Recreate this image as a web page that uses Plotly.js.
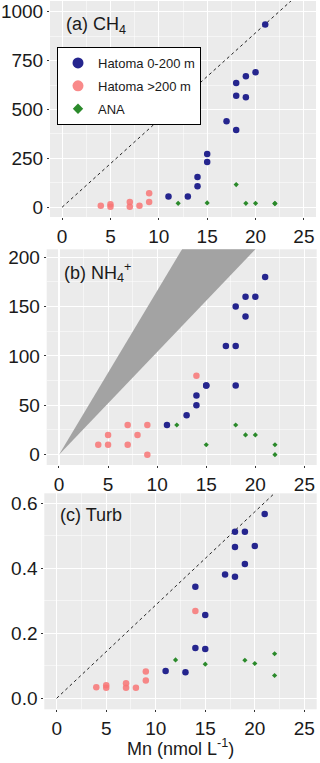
<!DOCTYPE html>
<html>
<head>
<meta charset="utf-8">
<script src="https://cdn.plot.ly/plotly-3.0.1.min.js"></script>
<style>
  html, body { margin: 0; padding: 0; background: #fff; }
  #grafico { width: 320px; height: 763px; }
</style>
</head>
<body>
<div id="grafico"></div>
<script>
// Mn (nmol/L) per group
var mnShallow = [11, 13, 14, 14, 15, 15, 17, 18, 18, 18, 19, 19, 20, 21];
var mnDeep = [4, 5, 5, 7, 7, 8, 9, 9, 14];
var mnAna = [12, 15, 18, 19, 20, 22, 22];

// (a) CH4
var ch4Shallow = [55, 55, 107, 155, 232, 272, 440, 395, 570, 635, 562, 670, 690, 935];
var ch4Deep = [7, 15, 2, 3, 27, 8, 27, 72, 467];
var ch4Ana = [20, 22, 116, 20, 20, 20, 18];

// (b) NH4+
var nh4Shallow = [30, 40, 50, 60, 70, 70, 110, 70, 110, 150, 140, 160, 160, 180];
var nh4Deep = [10, 10, 20, 10, 30, 20, 0, 30, 80];
var nh4Ana = [30, 10, 30, 20, 20, 10, 0];

// (c) Turb
var turbShallow = [0.084, 0.080, 0.155, 0.343, 0.152, 0.256, 0.381, 0.374, 0.466, 0.513, 0.413, 0.513, 0.469, 0.567];
var turbDeep = [0.034, 0.040, 0.032, 0.032, 0.046, 0.032, 0.055, 0.082, 0.269];
var mnAnaTurb = [12, 15, 19, 20, 22, 22];
var turbAna = [0.118, 0.105, 0.117, 0.107, 0.137, 0.070];

// reference lines (slopes) and the NH4 wedge
var ch4Slope = 44.6;
var turbSlope = 0.0287;
var nh4Upper = 16.6;
var nh4Lower = 10.4;
var lineX = [0, 25];

var azul = '#25258e';
var rosa = 'rgba(248, 118, 118, 0.85)';
var verde = '#2b8a2b';
var fuente = 'Liberation Sans, Arial, sans-serif';

function puntos(x, y, color, size, symbol, xa, ya) {
  return {
    x: x, y: y, xaxis: xa, yaxis: ya,
    type: 'scatter', mode: 'markers',
    marker: {color: color, size: size, symbol: symbol, line: {width: 0}},
    showlegend: false, hoverinfo: 'skip'
  };
}

function recta(slope, xa, ya) {
  return {
    x: lineX, y: lineX.map(function (v) { return v * slope; }),
    xaxis: xa, yaxis: ya, type: 'scatter', mode: 'lines',
    line: {color: '#222', width: 1, dash: 'dot'},
    showlegend: false, hoverinfo: 'skip'
  };
}

var cuna = {
  x: [0, 25, 25, 0],
  y: [0, 25 * nh4Upper, 25 * nh4Lower, 0],
  xaxis: 'x2', yaxis: 'y2', type: 'scatter', mode: 'lines',
  fill: 'toself', fillcolor: '#a3a3a3', line: {width: 0},
  showlegend: false, hoverinfo: 'skip'
};

// legend-only entries (bigger keys, like the original)
function leyenda(name, color, size, symbol) {
  return {
    x: [null], y: [null], xaxis: 'x', yaxis: 'y', type: 'scatter', mode: 'markers',
    name: name, legendgroup: name, marker: {color: color, size: size, symbol: symbol},
    showlegend: true, hoverinfo: 'skip'
  };
}

var data = [
  recta(ch4Slope, 'x', 'y'),
  puntos(mnDeep, ch4Deep, rosa, 6.5, 'circle', 'x', 'y'),
  puntos(mnShallow, ch4Shallow, azul, 6.5, 'circle', 'x', 'y'),
  puntos(mnAna, ch4Ana, verde, 4, 'diamond', 'x', 'y'),

  cuna,
  puntos(mnDeep, nh4Deep, rosa, 6.5, 'circle', 'x2', 'y2'),
  puntos(mnShallow, nh4Shallow, azul, 6.5, 'circle', 'x2', 'y2'),
  puntos(mnAna, nh4Ana, verde, 4, 'diamond', 'x2', 'y2'),

  recta(turbSlope, 'x3', 'y3'),
  puntos(mnDeep, turbDeep, rosa, 6.5, 'circle', 'x3', 'y3'),
  puntos(mnShallow, turbShallow, azul, 6.5, 'circle', 'x3', 'y3'),
  puntos(mnAnaTurb, turbAna, verde, 4, 'diamond', 'x3', 'y3'),

  leyenda('Hatoma 0-200 m', azul, 11, 'circle'),
  leyenda('Hatoma >200 m', rosa, 11, 'circle'),
  leyenda('ANA', verde, 8, 'diamond')
];

function ejeX(domain, anchor) {
  return {
    domain: domain, anchor: anchor, range: [-1.25, 26.25],
    tickvals: [0, 5, 10, 15, 20, 25], ticks: 'outside', ticklen: 2,
    tickcolor: '#333', tickfont: {size: 19, color: '#1a1a1a', family: fuente},
    showgrid: true, gridcolor: '#fff', gridwidth: 1.1, zeroline: false, showline: false,
    minor: {dtick: 2.5, tick0: 0, showgrid: true, gridcolor: '#fff', gridwidth: 0.5},
    fixedrange: true
  };
}

function ejeY(domain, anchor, range, dtick, fmt) {
  return {
    domain: domain, anchor: anchor, range: range,
    tick0: 0, dtick: dtick, tickformat: fmt, ticks: 'outside', ticklen: 2,
    tickcolor: '#333', tickfont: {size: 19, color: '#1a1a1a', family: fuente},
    showgrid: true, gridcolor: '#fff', gridwidth: 1.1, zeroline: false, showline: false,
    minor: {dtick: dtick / 2, tick0: 0, showgrid: true, gridcolor: '#fff', gridwidth: 0.5},
    fixedrange: true
  };
}

var H = 763, W = 320;

var layout = {
  width: W, height: H,
  margin: {l: 0, r: 0, t: 0, b: 0},
  paper_bgcolor: '#fff',
  plot_bgcolor: '#ebebeb',
  font: {family: fuente, color: '#1a1a1a'},
  showlegend: true,
  legend: {
    x: 57 / W, y: 1 - 47 / H, xanchor: 'left', yanchor: 'top',
    bgcolor: '#fff', bordercolor: '#000', borderwidth: 1,
    font: {size: 13, family: fuente, color: '#1a1a1a'},
    tracegroupgap: 3, itemsizing: 'trace'
  },
  xaxis: ejeX([50 / W, 316 / W], 'y'),
  yaxis: ejeY([1 - 217 / H, 1 - 1 / H], 'x', [-50, 1055], 250, ''),
  xaxis2: ejeX([46.7 / W, 316.7 / W], 'y2'),
  yaxis2: ejeY([1 - 465 / H, 1 - 249.3 / H], 'x2', [-10.5, 208], 50, ''),
  xaxis3: ejeX([44.3 / W, 316.7 / W], 'y3'),
  yaxis3: ejeY([1 - 709.3 / H, 1 - 493.3 / H], 'x3', [-0.034, 0.631], 0.2, '.1f'),
  annotations: [
    {text: '(a) CH<sub>4</sub>', xref: 'paper', yref: 'paper', x: 64 / W, y: 1 - 26 / H,
     xanchor: 'left', yanchor: 'middle', showarrow: false, font: {size: 18}},
    {text: '(b) NH<sub>4</sub><sup>+</sup>', xref: 'paper', yref: 'paper', x: 62 / W, y: 1 - 272 / H,
     xanchor: 'left', yanchor: 'middle', showarrow: false, font: {size: 18}},
    {text: '(c) Turb', xref: 'paper', yref: 'paper', x: 58 / W, y: 1 - 515 / H,
     xanchor: 'left', yanchor: 'middle', showarrow: false, font: {size: 18}},
    {text: 'Mn (nmol L<sup>-1</sup>)', xref: 'paper', yref: 'paper', x: 180 / W, y: 1 - 747 / H,
     xanchor: 'center', yanchor: 'middle', showarrow: false, font: {size: 18}}
  ]
};

Plotly.newPlot('grafico', data, layout, {displayModeBar: false, staticPlot: true});
</script>
</body>
</html>
